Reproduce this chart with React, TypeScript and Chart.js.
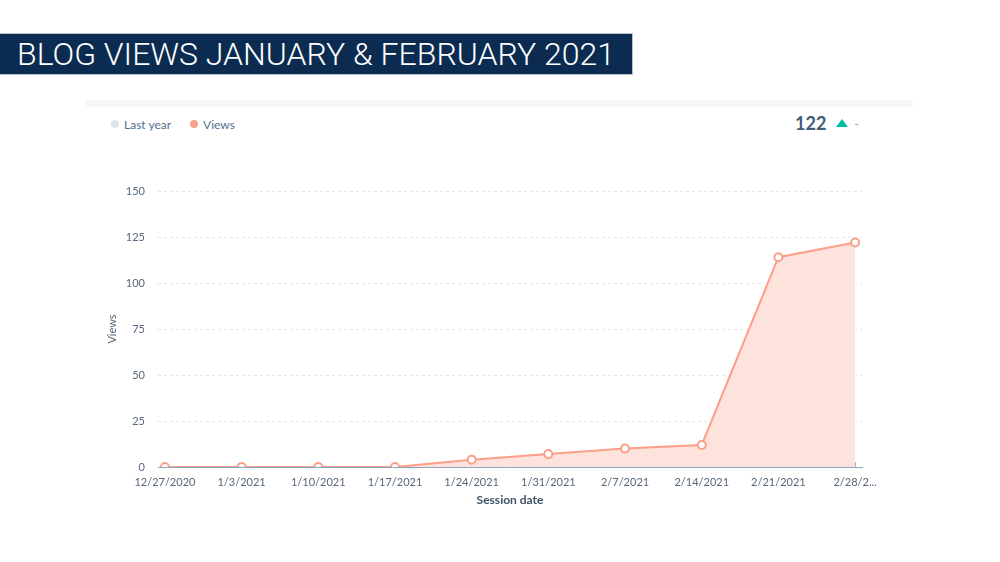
import React, { useEffect, useRef } from "react";
import { Chart, registerables } from "chart.js";

Chart.register(...registerables);

const titleText = "BLOG VIEWS JANUARY & FEBRUARY 2021";
const sessionDates = [
  "12/27/2020",
  "1/3/2021",
  "1/10/2021",
  "1/17/2021",
  "1/24/2021",
  "1/31/2021",
  "2/7/2021",
  "2/14/2021",
  "2/21/2021",
  "2/28/2...",
];
const views = [0, 0, 0, 0, 4, 7, 10, 12, 114, 122];
const yTicks = [0, 25, 50, 75, 100, 125, 150];
const legendItems = ["Last year", "Views"];
const totalViews = 122;

const LINE = "#fb9f88";
const FILL = "#fee3dc";
const AXIS = "#8fa6c0";
const TEXT = "#56687a";
const FONT = "Lato, 'Open Sans', sans-serif";

const innerTicks = {
  id: "innerTicks",
  beforeDatasetsDraw(chart: any) {
    const x = chart.scales.x;
    const y = chart.scales.y;
    const ctx = chart.ctx;
    ctx.save();
    ctx.strokeStyle = "#a9b4c0";
    ctx.lineWidth = 1;
    const base = y.getPixelForValue(0);
    sessionDates.forEach((_, i) => {
      const px = Math.round(x.getPixelForValue(i)) + 0.5;
      ctx.beginPath();
      ctx.moveTo(px, base - 5);
      ctx.lineTo(px, base);
      ctx.stroke();
    });
    ctx.restore();
  },
};

export default function App() {
  const ref = useRef<HTMLCanvasElement>(null);

  useEffect(() => {
    if (!ref.current) return;
    const chart = new Chart(ref.current, {
      type: "line",
      data: {
        datasets: [
          {
            label: legendItems[1],
            data: views.map((v, i) => ({ x: i, y: v })),
            borderColor: LINE,
            backgroundColor: FILL,
            fill: "origin",
            borderWidth: 2,
            tension: 0,
            pointRadius: 4,
            pointBorderWidth: 2,
            pointBackgroundColor: "#ffffff",
            pointBorderColor: LINE,
          },
        ],
      },
      plugins: [innerTicks],
      options: {
        animation: false,
        responsive: false,
        maintainAspectRatio: false,
        layout: { padding: { top: 41, right: 52, left: 0, bottom: 19 } },
        plugins: {
          legend: { display: false },
          tooltip: { enabled: false },
        },
        scales: {
          x: {
            type: "linear",
            min: -0.09,
            max: sessionDates.length - 1 + 0.09,
            afterBuildTicks: (axis: any) => {
              axis.ticks = sessionDates.map((_, i) => ({ value: i }));
            },
            afterFit: (axis: any) => {
              axis.height = 40;
            },
            grid: { display: false, drawTicks: false },
            border: { display: true, color: AXIS, width: 1 },
            ticks: {
              autoSkip: false,
              maxRotation: 0,
              padding: 9,
              color: TEXT,
              font: { family: FONT, size: 11 },
              callback: (v: any) => sessionDates[v] ?? "",
            },
            title: {
              display: true,
              text: "Session date",
              color: "#3f5366",
              font: { family: FONT, size: 12, weight: "bold" },
              padding: { top: 4, bottom: 0 },
            },
          },
          y: {
            min: 0,
            max: 150,
            afterBuildTicks: (axis: any) => {
              axis.ticks = yTicks.map((v) => ({ value: v }));
            },
            afterFit: (axis: any) => {
              axis.width = 72;
            },
            grid: {
              color: "#e3e5f2",
              drawTicks: false,
            },
            border: { display: false, dash: [3, 3] },
            ticks: {
              padding: 13,
              color: TEXT,
              font: { family: FONT, size: 11 },
            },
            title: {
              display: true,
              text: "Views",
              color: TEXT,
              font: { family: FONT, size: 11 },
              padding: { top: 20, bottom: 0 },
            },
          },
        },
      } as any,
    });
    return () => chart.destroy();
  }, []);

  return (
    <div
      style={{
        position: "fixed",
        left: 0,
        top: 0,
        width: 1000,
        height: 562,
        background: "#ffffff",
        fontFamily: FONT,
        overflow: "hidden",
      }}
    >
      <div
        style={{
          position: "absolute",
          left: 0,
          top: 34,
          width: 632,
          height: 40,
          background: "#0b2c50",
          boxShadow: "0 0 0 1px #b9c2cc",
          color: "#ffffff",
          fontFamily: "Roboto, sans-serif",
          fontWeight: 300,
          fontSize: 32,
          lineHeight: "40px",
          paddingLeft: 17,
          boxSizing: "border-box",
          whiteSpace: "nowrap",
        }}
      >
        {titleText}
      </div>
      <div
        style={{
          position: "absolute",
          left: 86,
          top: 100,
          width: 827,
          height: 7,
          background: "#f5f8fa",
        }}
      />
      <div
        style={{
          position: "absolute",
          left: 111,
          top: 116,
          display: "flex",
          alignItems: "center",
          fontSize: 12,
          color: "#516f90",
          height: 16,
        }}
      >
        <span
          style={{
            width: 8,
            height: 8,
            borderRadius: 4,
            background: "#dfe3eb",
            marginRight: 5,
          }}
        />
        <span style={{ marginRight: 19 }}>{legendItems[0]}</span>
        <span
          style={{
            width: 8,
            height: 8,
            borderRadius: 4,
            background: "#f8a28d",
            marginRight: 5,
          }}
        />
        <span>{legendItems[1]}</span>
      </div>
      <div
        style={{
          position: "absolute",
          left: 795,
          top: 112,
          display: "flex",
          alignItems: "center",
          height: 22,
          color: "#425b76",
        }}
      >
        <span style={{ fontSize: 18, fontWeight: 700, marginRight: 10 }}>
          {totalViews}
        </span>
        <span
          style={{
            width: 0,
            height: 0,
            borderLeft: "6px solid transparent",
            borderRight: "6px solid transparent",
            borderBottom: "8px solid #00bda5",
            marginRight: 6,
          }}
        />
        <span style={{ fontSize: 12, color: "#7c98b6" }}>-</span>
      </div>
      <canvas
        ref={ref}
        width={828}
        height={376}
        style={{ position: "absolute", left: 86, top: 150, width: 828, height: 376 }}
      />
    </div>
  );
}
